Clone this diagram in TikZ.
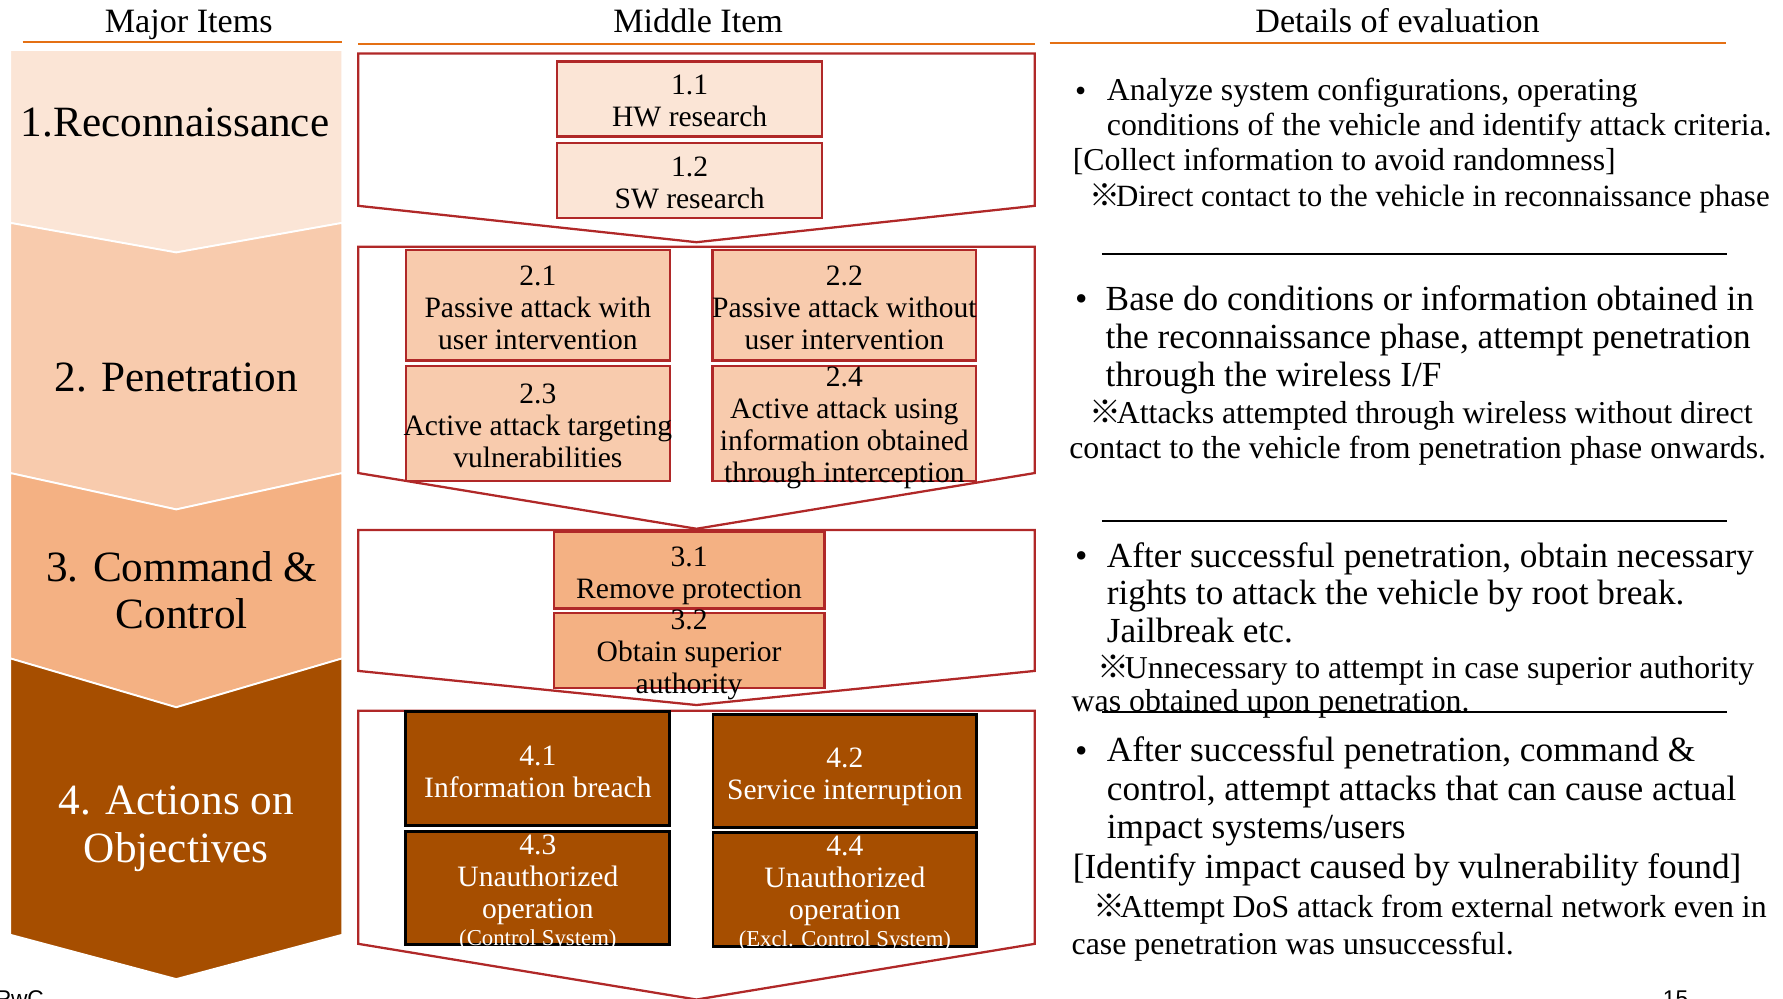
\documentclass[tikz,border=0pt]{standalone}
\usepackage{fontspec}
\setmainfont{Liberation Serif}
\newfontfamily\cjkfont{Noto Sans CJK JP}
\newfontfamily\footfont{Liberation Sans}
\newcommand{\komemark}{{\cjkfont ※}\kern-0.15em}

\definecolor{hdrline}{RGB}{228,112,20}
\definecolor{ired}{RGB}{176,40,40}
\definecolor{peachA}{RGB}{251,229,214}
\definecolor{peachB}{RGB}{248,203,173}
\definecolor{peachC}{RGB}{244,177,131}
\definecolor{brownD}{RGB}{166,78,0}

\begin{document}
\begin{tikzpicture}[x=0.5pt,y=-0.5pt,
  hdr/.style={font=\fontsize{15pt}{18pt}\selectfont, inner sep=0pt, text height=10.3pt, text depth=0pt},
  hdrrule/.style={draw=hdrline, line width=1pt},
  phase/.style={draw=white, line width=0.8pt, line join=miter},
  phaselbl/.style={font=\fontsize{19pt}{21pt}\selectfont, align=center, inner sep=0pt},
  stageframe/.style={draw=ired, line width=1pt, line join=miter},
  itembox/.style={draw=ired, line width=1pt, inner sep=0pt},
  darkbox/.style={draw=black, line width=1.3pt, inner sep=0pt, fill=brownD},
  itemtxt/.style={font=\fontsize{13pt}{14pt}\selectfont, align=center, inner sep=0pt, yshift=-1pt},
  desc/.style={anchor=west, inner sep=0pt, yshift=-1.5pt},
  descL/.style={desc, font=\fontsize{15.5pt}{18pt}\selectfont, text height=10.9pt, text depth=3.1pt},
  descS/.style={desc, font=\fontsize{14pt}{16pt}\selectfont, text height=9.8pt, text depth=2.8pt},
  sepline/.style={draw=black, line width=0.9pt},
  foot/.style={font=\footfont\fontsize{10pt}{12pt}\selectfont, anchor=base west, inner sep=0pt},
]
\useasboundingbox (0,0) rectangle (1568,878);

% ---------- column headings ----------
\node[hdr] (hMajor) at (166,18) {Major Items};
\node[hdr] (hMiddle) at (614,18) {Middle Item};
\node[hdr] (hDetails) at (1229,18) {Details of evaluation};
\draw[hdrrule] (20,37) -- (301,37);
\draw[hdrrule] (315,39) -- (910,39);
\draw[hdrrule] (923,38) -- (1518,38);

% ---------- phase chevrons ----------
\path[phase, fill=peachA] (9,44) -- (301,44) -- (301,196) -- (155,222) -- (9,196) -- cycle;
\path[phase, fill=peachB] (9,196) -- (155,222) -- (301,196) -- (301,416) -- (155,448) -- (9,416) -- cycle;
\path[phase, fill=peachC] (9,416) -- (155,448) -- (301,416) -- (301,579) -- (155,622) -- (9,579) -- cycle;
\path[phase, fill=brownD] (9,579) -- (155,622) -- (301,579) -- (301,822) -- (155,861) -- (9,822) -- cycle;

\node[phaselbl] (p1) at (154,108) {1.Reconnaissance};
\node[phaselbl] (p2) at (155,332) {2. Penetration};
\node[phaselbl] (p3) at (160,519) {3. Command \&\\Control};
\node[phaselbl, text=white] (p4) at (155,729) {4. Actions on\\Objectives};

% ---------- stage frames ----------
\draw[stageframe] (315,47) -- (910,47) -- (910,181) -- (612.5,213) -- (315,181) -- cycle;
\draw[stageframe] (315,217) -- (910,217) -- (910,416) -- (612.5,465) -- (315,416) -- cycle;
\draw[stageframe] (315,466) -- (910,466) -- (910,590) -- (612.5,620) -- (315,590) -- cycle;
\draw[stageframe] (315,625) -- (910,625) -- (910,830) -- (612.5,879) -- (315,830) -- cycle;

% ---------- middle items ----------
\node[itembox, fill=peachA, minimum width=116.5pt, minimum height=33pt] (b11) at (606.5,87) {};
\node[itembox, fill=peachA, minimum width=116.5pt, minimum height=33pt] (b12) at (606.5,159) {};
\node[itembox, fill=peachB, minimum width=116pt, minimum height=48.5pt] (b21) at (473,268.5) {};
\node[itembox, fill=peachB, minimum width=116pt, minimum height=48.5pt] (b22) at (742.5,268.5) {};
\node[itembox, fill=peachB, minimum width=116pt, minimum height=50.5pt] (b23) at (473,372.5) {};
\node[itembox, fill=peachB, minimum width=116pt, minimum height=50.5pt] (b24) at (742.5,372.5) {};
\node[itembox, fill=peachC, minimum width=119pt, minimum height=33.5pt] (b31) at (606,501.5) {};
\node[itembox, fill=peachC, minimum width=119pt, minimum height=33pt] (b32) at (606,572) {};
\node[darkbox, minimum width=116pt, minimum height=50pt] (b41) at (473,676) {};
\node[darkbox, minimum width=116pt, minimum height=50pt] (b42) at (743,678) {};
\node[darkbox, minimum width=116pt, minimum height=50pt] (b43) at (473,781) {};
\node[darkbox, minimum width=116pt, minimum height=50pt] (b44) at (743,782) {};

\node[itemtxt] (t11) at (b11) {1.1\\HW research};
\node[itemtxt] (t12) at (b12) {1.2\\SW research};
\node[itemtxt] (t21) at (b21) {2.1\\Passive attack with\\user intervention};
\node[itemtxt] (t22) at (b22) {2.2\\Passive attack without\\user intervention};
\node[itemtxt] (t23) at (b23) {2.3\\Active attack targeting\\vulnerabilities};
\node[itemtxt] (t24) at ([yshift=-0.8pt]b24) {2.4\\Active attack using\\information obtained\\through interception};
\node[itemtxt] (t31) at ([yshift=-1.5pt]b31) {3.1\\Remove protection};
\node[itemtxt] (t32) at ([yshift=-1pt]b32) {3.2\\Obtain superior\\authority};
\node[itemtxt, text=white] (t41) at ([yshift=-0.5pt]b41) {4.1\\Information breach};
\node[itemtxt, text=white] (t42) at ([yshift=-1.5pt]b42) {4.2\\Service interruption};
\node[itemtxt, text=white] (t43) at ([yshift=-1pt]b43) {4.3\\Unauthorized\\operation\\[-2pt]{\fontsize{10pt}{12pt}\selectfont (Control System)}};
\node[itemtxt, text=white] (t44) at ([yshift=-1pt]b44) {4.4\\Unauthorized\\operation\\[-2pt]{\fontsize{10pt}{12pt}\selectfont (Excl. Control System)}};

% ---------- details of evaluation ----------
\node[descS] (d1bul) at (945,79) {•};
\node[descS] (d1a) at (973,78) {Analyze system configurations, operating};
\node[descS] (d1b) at (973,109) {conditions of the vehicle and identify attack criteria.};
\node[descS] (d1c) at (943,140) {[Collect information to avoid randomness]};
\node[descS, font=\fontsize{13.6pt}{16pt}\selectfont] (d1d) at (958,172) {\komemark Direct contact to the vehicle in reconnaissance phase};
\draw[sepline] (969,223) -- (1519,223);

\node[descL] (d2bul) at (945,262) {•};
\node[descL] (d2a) at (972,262) {Base do conditions or information obtained in};
\node[descL] (d2b) at (972,296) {the reconnaissance phase, attempt penetration};
\node[descL] (d2c) at (972,329) {through the wireless I/F};
\node[descS] (d2d) at (958,362) {\komemark Attacks attempted through wireless without direct};
\node[descS] (d2e) at (940,393) {contact to the vehicle from penetration phase onwards.};
\draw[sepline] (969,458) -- (1519,458);

\node[descL] (d3bul) at (945,488) {•};
\node[descL] (d3a) at (973,488) {After successful penetration, obtain necessary};
\node[descL] (d3b) at (973,521) {rights to attack the vehicle by root break.};
\node[descL] (d3c) at (973,554) {Jailbreak etc.};
\node[descS] (d3d) at (965,587) {\komemark Unnecessary to attempt in case superior authority};
\node[descS] (d3e) at (942,616) {was obtained upon penetration.};
\draw[sepline] (969,626) -- (1519,626);

\node[descL] (d4bul) at (945,660) {•};
\node[descL] (d4a) at (973,659) {After successful penetration, command \&};
\node[descL] (d4b) at (973,693) {control, attempt attacks that can cause actual};
\node[descL] (d4c) at (973,727) {impact systems/users};
\node[descL] (d4d) at (943,762) {[Identify impact caused by vulnerability found]};
\node[descS] (d4e) at (961,797) {\komemark Attempt DoS attack from external network even in};
\node[descS] (d4f) at (942,829) {case penetration was unsuccessful.};

% ---------- footer ----------
\node[foot] (pwc) at (-4,885) {PwC};
\node[foot] (pageno) at (1462,885) {15};
\end{tikzpicture}
\end{document}
